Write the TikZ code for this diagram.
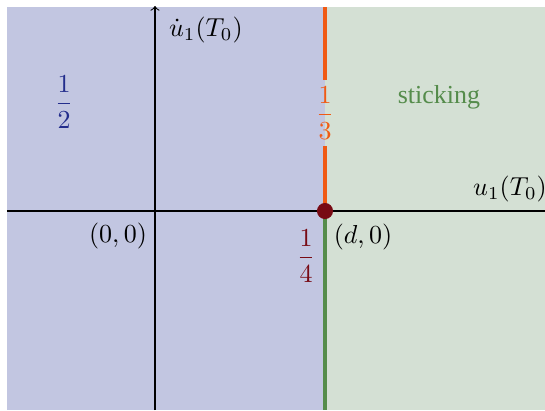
\documentclass[tikz,border=0pt]{standalone}
\usepackage{amsmath}
\usepackage{fontspec}
\setmainfont{Liberation Serif}
\usepackage{tikz}
\pgfdeclarelayer{background}
\pgfdeclarelayer{edgelayer}
\pgfdeclarelayer{nodelayer}
\pgfsetlayers{background,edgelayer,main,nodelayer}
\definecolor{slipblue}{RGB}{194,198,225}
\definecolor{stickgreen}{RGB}{212,224,212}
\definecolor{labelblue}{RGB}{35,45,140}
\definecolor{lineorange}{RGB}{240,90,20}
\definecolor{linegreen}{RGB}{85,140,75}
\definecolor{pointred}{RGB}{120,10,20}
\tikzstyle{axis}=[draw=black, ->]
\tikzstyle{tag}=[inner sep=1pt]
\tikzstyle{point}=[circle, fill=pointred, inner sep=0pt, minimum size=6.2pt]
\tikzstyle{boundary}=[line width=1.2pt]

\begin{document}
\begin{tikzpicture}[x=0.385pt, y=0.385pt]
			\useasboundingbox (-155,-199) rectangle (390,211);
			\begin{pgfonlayer}{background}
			\fill [slipblue] (-148,-199) rectangle (170,204);
			\fill [stickgreen] (170,-199) rectangle (390,204);
			\end{pgfonlayer}
			\begin{pgfonlayer}{nodelayer}
			\node [style=point] (d) at (170, 0) {};
			\node [style=tag] (origin) at (-37, -25) {$(0,0)$};
			\node [style=tag] (dlabel) at (208, -26) {$(d,0)$};
			\node [style=tag, text=labelblue] (half) at (-91, 109) {$\dfrac{1}{2}$};
			\node [style=tag, text=lineorange, minimum height=25pt] (third) at (170, 98) {$\dfrac{1}{3}$};
			\node [style=tag, text=pointred] (quarter) at (151, -45) {$\dfrac{1}{4}$};
			\node [style=tag, text=linegreen] (stick) at (284, 114) {sticking};
			\node [style=tag, anchor=west] (ylabel) at (11, 181) {$\dot{u}_1(T_0)$};
			\node [style=tag] (xlabel) at (355, 22) {$u_1(T_0)$};
			\coordinate (xstart) at (-148, 0);
			\coordinate (xend) at (396, 0);
			\coordinate (ystart) at (0, -199);
			\coordinate (yend) at (0, 205);
			\coordinate (top) at (170, 204);
			\coordinate (bottom) at (170, -199);
			\end{pgfonlayer}
			\begin{pgfonlayer}{edgelayer}
			\draw [style=axis] (xstart) to (xend);
			\draw [style=axis] (ystart) to (yend);
			\draw [style=boundary, draw=lineorange] (d.center) to (third.south);
			\draw [style=boundary, draw=lineorange] (third.north) to (top);
			\draw [style=boundary, draw=linegreen] (d.center) to (bottom);
			\end{pgfonlayer}
\end{tikzpicture}
\end{document}
